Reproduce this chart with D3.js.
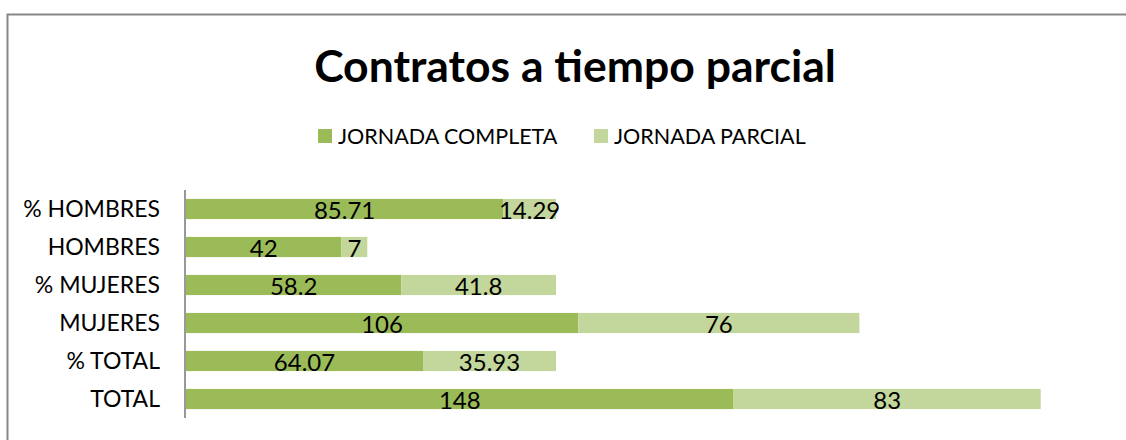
<!DOCTYPE html>
<html>
<head>
<meta charset="utf-8">
<script src="https://cdn.jsdelivr.net/npm/d3@7"></script>
<style>
  html, body { margin: 0; padding: 0; background: #fff; }
  svg { display: block; font-family: Lato, "Open Sans", sans-serif; }
</style>
</head>
<body>
<script>
// data
var categories = ["% HOMBRES", "HOMBRES", "% MUJERES", "MUJERES", "% TOTAL", "TOTAL"];
var completa = [85.71, 42, 58.2, 106, 64.07, 148];
var parcial = [14.29, 7, 41.8, 76, 35.93, 83];
var seriesNames = ["JORNADA COMPLETA", "JORNADA PARCIAL"];
var colors = ["#9BBB59", "#C3D69B"];

var w = 1126, h = 440;

var svg = d3.select("body").append("svg")
    .attr("width", w)
    .attr("height", h);

// chart frame (bottom/right cut off by the picture)
svg.append("rect")
    .attr("x", 7.5)
    .attr("y", 14.5)
    .attr("width", 1160)
    .attr("height", 500)
    .attr("fill", "#fff")
    .attr("stroke", "#878787")
    .attr("stroke-width", 2);

// title
svg.append("text")
    .attr("x", 575)
    .attr("y", 82)
    .attr("text-anchor", "middle")
    .attr("font-size", "44.5px")
    .attr("font-weight", "bold")
    .attr("fill", "#000")
    .text("Contratos a tiempo parcial");

// legend
var legendX = [318, 594];
var legend = svg.selectAll(".legend")
    .data(seriesNames)
  .enter().append("g")
    .attr("class", "legend")
    .attr("transform", function(d, i) { return "translate(" + legendX[i] + ",129)"; });

legend.append("rect")
    .attr("width", 14)
    .attr("height", 14)
    .attr("fill", function(d, i) { return colors[i]; });

legend.append("text")
    .attr("x", 20)
    .attr("y", 15)
    .attr("font-size", "21.5px")
    .attr("fill", "#000")
    .text(function(d) { return d; });

// scales
var xScale = d3.scaleLinear()
    .domain([0, 250])
    .range([186, 1111]);

var yScale = d3.scaleBand()
    .domain(categories)
    .range([190, 418])
    .paddingInner(0.47)
    .paddingOuter(0.235);

var table = categories.map(function(c, i) {
  return { cat: c, JC: completa[i], JP: parcial[i] };
});
var stacked = d3.stack().keys(["JC", "JP"])(table);

var layers = svg.selectAll(".layer")
    .data(stacked)
  .enter().append("g")
    .attr("class", "layer")
    .attr("fill", function(d, i) { return colors[i]; });

layers.selectAll("rect")
    .data(function(d) { return d; })
  .enter().append("rect")
    .attr("x", function(d) { return xScale(d[0]); })
    .attr("y", function(d) { return yScale(d.data.cat); })
    .attr("width", function(d) { return xScale(d[1]) - xScale(d[0]); })
    .attr("height", yScale.bandwidth());

layers.selectAll("text")
    .data(function(d) { return d; })
  .enter().append("text")
    .attr("x", function(d) { return (xScale(d[0]) + xScale(d[1])) / 2; })
    .attr("y", function(d) { return yScale(d.data.cat) + yScale.bandwidth() / 2; })
    .attr("dy", "0.42em")
    .attr("text-anchor", "middle")
    .attr("font-size", "24px")
    .attr("fill", "#000")
    .text(function(d) { return d3.format("~g")(+(d[1] - d[0]).toFixed(2)); });

// y axis
var yAxis = svg.append("g")
    .attr("transform", "translate(185,0)")
    .call(d3.axisLeft(yScale).tickSize(0).tickPadding(25));
yAxis.select(".domain")
    .attr("stroke", "#999")
    .attr("stroke-width", 2)
    .attr("d", "M0,190V418");
yAxis.selectAll("text")
    .attr("font-size", "23px")
    .attr("font-family", "Lato, sans-serif")
    .attr("fill", "#000")
    .attr("dy", "0.35em");
</script>
</body>
</html>
